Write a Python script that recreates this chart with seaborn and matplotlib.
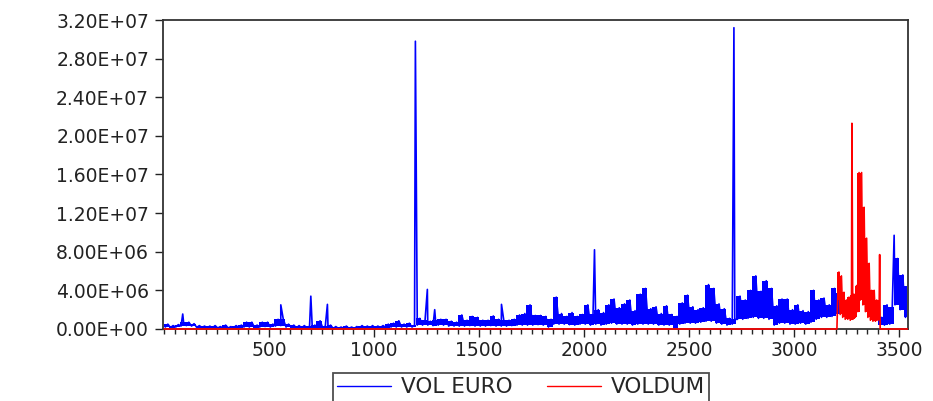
import numpy as np
import pandas as pd
import matplotlib
matplotlib.use("Agg")
import matplotlib.pyplot as plt
import seaborn as sns
from matplotlib.ticker import MultipleLocator, FuncFormatter
from matplotlib.lines import Line2D

# ---------------- data (values in millions) ----------------
# VOL EURO: lower / upper envelope for each 25-observation block, starting at obs 0
BLUE_LOW = [
    0.2, 0.15, 0.2, 0.3, 0.35, 0.3, 0.15, 0.15, 0.1, 0.1,      # 0-225
    0.1, 0.1, 0.1, 0.1, 0.15, 0.2, 0.2, 0.15, 0.2, 0.25,       # 250-475
    0.2, 0.3, 0.35, 0.2, 0.15, 0.1, 0.1, 0.1, 0.1, 0.1,        # 500-725
    0.1, 0.1, 0.05, 0.05, 0.05, 0.05, 0.05, 0.1, 0.1, 0.1,     # 750-975
    0.1, 0.15, 0.15, 0.2, 0.2, 0.2, 0.2, 0.2, 0.4, 0.4,        # 1000-1225
    0.4, 0.35, 0.4, 0.4, 0.3, 0.3, 0.3, 0.3, 0.35, 0.3,        # 1250-1475
    0.3, 0.3, 0.35, 0.3, 0.3, 0.3, 0.35, 0.4, 0.4, 0.4,        # 1500-1725
    0.4, 0.45, 0.4, 0.2, 0.5, 0.5, 0.5, 0.45, 0.4, 0.5,        # 1750-1975
    0.5, 0.4, 0.5, 0.4, 0.5, 0.6, 0.5, 0.5, 0.5, 0.4,          # 2000-2225
    0.5, 0.5, 0.5, 0.5, 0.4, 0.4, 0.4, 0.1, 0.5, 0.6,          # 2250-2475
    0.6, 0.6, 0.7, 0.8, 0.8, 0.6, 0.5, 0.4, 0.5, 1.0,          # 2500-2725
    1.0, 1.1, 1.2, 1.1, 1.1, 1.0, 0.4, 0.6, 0.6, 0.5,          # 2750-2975
    0.5, 0.6, 0.5, 0.7, 1.0, 1.2, 1.2, 1.3, 1.5, 0.0,          # 3000-3225
    0.0, 0.0, 0.0, 0.0, 0.0, 0.0, 0.4, 0.4, 0.5, 2.5,          # 3250-3475
    2.0, 1.2,                                                  # 3500-3525
]
BLUE_HIGH = [
    0.5, 0.35, 0.45, 0.7, 0.7, 0.55, 0.35, 0.3, 0.3, 0.35,
    0.25, 0.4, 0.25, 0.35, 0.4, 0.7, 0.7, 0.4, 0.7, 0.7,
    0.5, 1.0, 1.0, 0.5, 0.4, 0.35, 0.35, 0.3, 0.4, 0.85,
    0.3, 0.4, 0.25, 0.2, 0.3, 0.2, 0.25, 0.35, 0.3, 0.35,
    0.3, 0.35, 0.5, 0.6, 0.85, 0.5, 0.6, 0.4, 1.1, 0.9,
    0.8, 0.9, 1.0, 1.0, 0.8, 0.7, 1.45, 0.9, 1.3, 1.2,
    0.9, 0.9, 1.35, 1.0, 0.9, 0.9, 1.0, 1.45, 1.6, 2.5,
    1.4, 1.4, 1.3, 1.0, 3.3, 1.6, 1.3, 1.7, 1.3, 1.5,
    2.5, 1.5, 2.0, 1.7, 2.5, 3.1, 2.2, 2.6, 3.0, 1.9,
    3.6, 4.2, 2.1, 2.3, 1.6, 2.4, 1.5, 1.3, 2.7, 3.5,
    2.3, 2.0, 2.2, 4.6, 4.2, 2.6, 2.1, 1.1, 1.0, 3.4,
    3.0, 4.0, 5.5, 3.9, 5.0, 4.2, 2.4, 3.1, 3.1, 2.0,
    2.5, 1.9, 1.8, 4.0, 3.0, 3.2, 2.5, 4.2, 3.7, 0.0,
    0.0, 0.0, 0.0, 0.0, 0.0, 0.0, 1.2, 2.5, 2.3, 7.3,
    5.6, 4.5,
]
# isolated VOL EURO spikes
SPIKE_OBS = [89, 556, 699, 778, 1197, 1254, 1289, 1607, 2050, 2714, 3477]
SPIKE_VAL = [1.55, 2.5, 3.4, 2.55, 29.8, 4.1, 2.0, 2.55, 8.2, 31.2, 9.7]

# VOLDUM: lower / upper envelope for 12-observation blocks starting at obs 3205
RED_LOW = [3.0, 1.5, 1.2, 1.0, 1.0, 0.9, 1.0, 1.2, 1.8, 3.0, 2.5, 1.8,
           1.2, 0.9, 0.8, 0.8, 0.9]
RED_HIGH = [5.9, 5.5, 3.8, 3.0, 3.3, 3.5, 3.6, 4.5, 16.2, 16.2, 12.6, 9.4,
            6.8, 4.0, 4.0, 3.0, 3.0]
RED_SPIKE_OBS = [3276, 3408]
RED_SPIKE_VAL = [21.3, 7.7]
FIRST_OBS, LAST_OBS = 1, 3540
RED_START, RED_END = 3205, 3411

YTICKS = [0, 4e6, 8e6, 1.2e7, 1.6e7, 2.0e7, 2.4e7, 2.8e7, 3.2e7]
XTICKS = [500, 1000, 1500, 2000, 2500, 3000, 3500]
SERIES = ["VOL EURO", "VOLDUM"]
BLUE, RED = "#0000FF", "#FF0000"

# ---------------- build tables ----------------
b_start = np.arange(len(BLUE_LOW)) * 25
b_low = np.array(BLUE_LOW) * 1e6
b_high = np.array(BLUE_HIGH) * 1e6
bx = np.concatenate([b_start + 6, b_start + 18, SPIKE_OBS])
bv = np.concatenate([b_low, b_high, np.array(SPIKE_VAL) * 1e6])
blue = pd.DataFrame({"obs": bx, "value": bv})
blue = blue[(blue.obs <= LAST_OBS) &
            ~((blue.obs > RED_START) & (blue.obs < RED_END))]
blue = blue.sort_values("obs")
blue["seg"] = np.where(blue.obs < RED_START, 0, 1)

r_start = RED_START + np.arange(len(RED_LOW)) * 12
r_low = np.array(RED_LOW) * 1e6
r_high = np.array(RED_HIGH) * 1e6
rx = np.concatenate([[FIRST_OBS, RED_START - 0.5], r_start + 3, r_start + 9,
                     RED_SPIKE_OBS, [RED_END - 0.5, LAST_OBS]])
rv = np.concatenate([[0, 0], r_low, r_high,
                     np.array(RED_SPIKE_VAL) * 1e6, [0, 0]])
red = pd.DataFrame({"obs": rx, "value": rv}).sort_values("obs")
red["seg"] = 0

# ---------------- plot ----------------
sns.set_theme(style="white")
plt.rcParams["font.family"] = ["DejaVu Sans"]

fig = plt.figure(figsize=(9.33, 4.01), dpi=100)
ax = fig.add_axes([0.1747, 0.1796, 0.7985, 0.7705])

# dense band of daily values (envelope of each block)
ax.fill_between(np.append(b_start, LAST_OBS).astype(float),
                np.append(b_low, b_low[-1]), np.append(b_high, b_high[-1]),
                step="post", color=BLUE, lw=0, zorder=1.5)
ax.fill_between(np.append(r_start, RED_END).astype(float),
                np.append(r_low, r_low[-1]), np.append(r_high, r_high[-1]),
                step="post", color=RED, lw=0, zorder=2.6)

sns.lineplot(data=blue, x="obs", y="value", units="seg", color=BLUE,
             estimator=None, sort=False, linewidth=1.2, ax=ax, zorder=2)
n_before = len(ax.lines)
sns.lineplot(data=red, x="obs", y="value", units="seg", color=RED,
             estimator=None, sort=False, linewidth=1.2, ax=ax, zorder=3)
for ln in ax.lines[n_before:]:
    ln.set_clip_on(False)

ax.set_xlim(-5, 3543)
ax.set_ylim(0, 3.2e7)
ax.set_xlabel("")
ax.set_ylabel("")
ax.set_yticks(YTICKS)
ax.yaxis.set_major_formatter(FuncFormatter(lambda v, p: f"{v:.2E}"))
ax.set_xticks(XTICKS)
ax.xaxis.set_minor_locator(MultipleLocator(50))
ax.tick_params(axis="y", which="major", direction="out", length=6, width=1.0,
               pad=4, labelsize=13.5, colors="#222222", left=True)
ax.tick_params(axis="x", which="major", direction="out", length=5.5, width=1.0,
               pad=3, labelsize=13.5, colors="#222222", bottom=True)
ax.tick_params(axis="x", which="minor", direction="out", length=3.5, width=1.0,
               bottom=True)
for s in ax.spines.values():
    s.set_visible(True)
    s.set_color("#333333")
    s.set_linewidth(1.3)

handles = [Line2D([], [], color=BLUE, lw=1.0), Line2D([], [], color=RED, lw=1.0)]
leg = fig.legend(handles, SERIES, loc="upper center", ncol=2,
                 bbox_to_anchor=(521 / 933, 1 - 373 / 401),
                 frameon=True, fancybox=False, fontsize=15.5,
                 handlelength=2.5, handletextpad=0.45, columnspacing=1.6,
                 borderpad=0.2, borderaxespad=0)
leg.get_frame().set_edgecolor("#222222")
leg.get_frame().set_linewidth(1.3)

fig.savefig("out.png", dpi=100)
